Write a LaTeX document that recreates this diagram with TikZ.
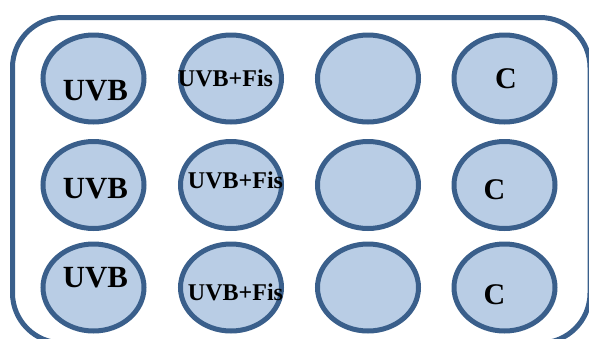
\documentclass[tikz,border=0pt]{standalone}
\usepackage{fontspec}
\setmainfont{Liberation Serif}
\usetikzlibrary{shapes.geometric}
\definecolor{edgeblue}{HTML}{3A5F8B}
\definecolor{fillblue}{HTML}{B9CDE5}
\begin{document}
\begin{tikzpicture}[x=1pt,y=-1pt,
  well/.style={draw=edgeblue,fill=fillblue,line width=5pt,ellipse,minimum width=101pt,minimum height=87pt,inner sep=0pt},
  big/.style={anchor=base,inner sep=0pt,font=\fontsize{30.8}{31}\selectfont\bfseries},
  mid/.style={anchor=base,inner sep=0pt,font=\fontsize{24}{24}\selectfont\bfseries},
  cee/.style={anchor=base,inner sep=0pt,font=\fontsize{30}{30}\selectfont\bfseries}]
\useasboundingbox (0,0) rectangle (589,338);
\draw[edgeblue,line width=5pt,rounded corners=50pt] (12.5,17.5) rectangle (590,343);
\foreach \c/\x in {1/93.5,2/231,3/368,4/504.5}{
  \foreach \r/\y in {1/78.5,2/185,3/287.5}{
    \node[well] (w\r\c) at (\x,\y) {};
  }
}
\node[big] (t11) at (95.5,100) {UVB};
\node[big] (t21) at (95.5,198) {UVB};
\node[big] (t31) at (95.5,287) {UVB};
\node[mid] (t12) at (225.5,86.7) {UVB+Fis};
\node[mid] (t22) at (235.5,188) {UVB+Fis};
\node[mid] (t32) at (235.5,300) {UVB+Fis};
\node[cee] (t14) at (506,88.5) {C};
\node[cee] (t24) at (494.5,199.5) {C};
\node[cee] (t34) at (494.5,304.5) {C};
\end{tikzpicture}
\end{document}
